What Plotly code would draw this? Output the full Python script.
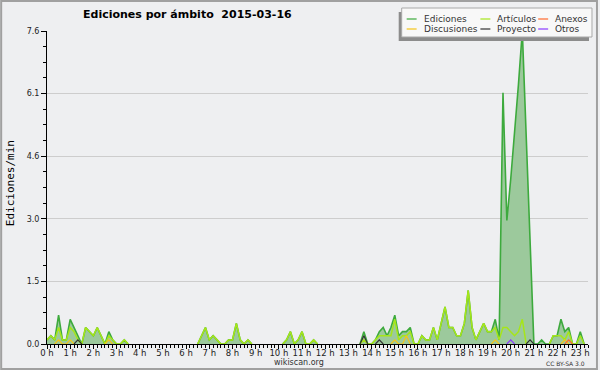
import plotly.graph_objects as go

# ---------------- data (10-minute bins, edits per minute) ----------------
BIN_HOURS = 1 / 6
N_BINS = 141

ediciones = [
    0.1, 0.2, 0.1, 0.7, 0.1, 0.1, 0.6, 0.4, 0.2, 0.0,   # 0-9
    0.4, 0.3, 0.2, 0.4, 0.2, 0.0, 0.3, 0.1, 0.0, 0.0,   # 10-19
    0.1, 0.0, 0.0, 0.0, 0.0, 0.0, 0.0, 0.0, 0.0, 0.0,   # 20-29
    0.0, 0.0, 0.0, 0.0, 0.0, 0.0, 0.0, 0.0, 0.0, 0.0,   # 30-39
    0.2, 0.4, 0.1, 0.2, 0.1, 0.0, 0.0, 0.1, 0.1, 0.5,   # 40-49
    0.1, 0.0, 0.1, 0.0, 0.0, 0.0, 0.0, 0.0, 0.0, 0.0,   # 50-59
    0.0, 0.0, 0.1, 0.3, 0.0, 0.1, 0.3, 0.0, 0.0, 0.1,   # 60-69
    0.0, 0.0, 0.0, 0.0, 0.0, 0.0, 0.0, 0.0, 0.0, 0.0,   # 70-79
    0.0, 0.0, 0.3, 0.0, 0.0, 0.1, 0.3, 0.4, 0.2, 0.4,   # 80-89
    0.7, 0.2, 0.3, 0.3, 0.4, 0.0, 0.0, 0.2, 0.1, 0.1,   # 90-99
    0.4, 0.1, 0.5, 0.9, 0.4, 0.4, 0.2, 0.2, 0.5, 1.3,   # 100-109
    0.4, 0.1, 0.3, 0.5, 0.3, 0.3, 0.6, 0.1, 6.1, 3.0,   # 110-119
    4.0, 5.1, 6.3, 7.6, 5.0, 2.4, 0.0, 0.0, 0.1, 0.0,   # 120-129
    0.0, 0.2, 0.2, 0.6, 0.3, 0.4, 0.0, 0.0, 0.3, 0.0,   # 130-139
    0.0,                                                # 140
]

articulos = [
    0.1, 0.2, 0.1, 0.4, 0.1, 0.1, 0.4, 0.3, 0.1, 0.0,
    0.4, 0.3, 0.2, 0.4, 0.2, 0.0, 0.2, 0.1, 0.0, 0.0,
    0.1, 0.0, 0.0, 0.0, 0.0, 0.0, 0.0, 0.0, 0.0, 0.0,
    0.0, 0.0, 0.0, 0.0, 0.0, 0.0, 0.0, 0.0, 0.0, 0.0,
    0.2, 0.4, 0.1, 0.2, 0.1, 0.0, 0.0, 0.1, 0.1, 0.5,
    0.1, 0.0, 0.1, 0.0, 0.0, 0.0, 0.0, 0.0, 0.0, 0.0,
    0.0, 0.0, 0.1, 0.3, 0.0, 0.1, 0.3, 0.0, 0.0, 0.1,
    0.0, 0.0, 0.0, 0.0, 0.0, 0.0, 0.0, 0.0, 0.0, 0.0,
    0.0, 0.0, 0.1, 0.0, 0.0, 0.1, 0.2, 0.2, 0.2, 0.2,
    0.6, 0.1, 0.2, 0.2, 0.3, 0.0, 0.0, 0.2, 0.1, 0.1,
    0.4, 0.1, 0.5, 0.9, 0.4, 0.4, 0.2, 0.2, 0.5, 1.3,
    0.4, 0.1, 0.3, 0.5, 0.3, 0.3, 0.4, 0.1, 0.4, 0.4,
    0.3, 0.2, 0.3, 0.6, 0.0, 0.0, 0.0, 0.0, 0.0, 0.0,
    0.0, 0.2, 0.2, 0.2, 0.1, 0.3, 0.0, 0.0, 0.2, 0.0,
    0.0,
]

# sparse series: {bin index: edits/min}
discusiones = {3: 0.1, 6: 0.1, 16: 0.1, 90: 0.1, 93: 0.2, 116: 0.1, 134: 0.1}
proyecto = {8: 0.1, 82: 0.2, 86: 0.1, 125: 0.1}
anexos = {135: 0.1}
otros = {120: 0.1}

hour_ticks = list(range(24))
hour_labels = [f"{h} h" for h in hour_ticks]
y_max = 7.6

legend_names = ["Ediciones", "Artículos", "Anexos", "Discusiones", "Proyecto", "Otros"]
colors = {
    "Ediciones": "#3DAA3D",
    "Artículos": "#A6E619",
    "Anexos": "#FF6A2E",
    "Discusiones": "#F5C518",
    "Proyecto": "#333333",
    "Otros": "#8A3BFF",
}

# ---------------- helpers ----------------
x_hours = [i * BIN_HOURS for i in range(N_BINS)]


def dense(d):
    v = [0.0] * N_BINS
    for k, val in d.items():
        v[k] = val
    return v


def visible(vals):
    """Hide long runs of zeros so lines only show where there is activity."""
    out = []
    for i, v in enumerate(vals):
        near = [vals[j] for j in (i - 1, i, i + 1) if 0 <= j < len(vals)]
        out.append(v if any(n > 0 for n in near) else None)
    return out


W, H = 600, 370
ML, MR, MT, MB = 47, 10, 31, 26
PW, PH = W - ML - MR, H - MT - MB


def px(xp):
    return (xp - ML) / PW


def py(yp):
    return (H - MB - yp) / PH


fig = go.Figure()

fig.add_trace(go.Scatter(
    x=x_hours, y=visible(ediciones), name="Ediciones", mode="lines",
    line=dict(color=colors["Ediciones"], width=1.6),
    fill="tozeroy", fillcolor="#9CC99C", connectgaps=False, hoverinfo="skip",
))
fig.add_trace(go.Scatter(
    x=x_hours, y=visible(articulos), name="Artículos", mode="lines",
    line=dict(color=colors["Artículos"], width=1.5), connectgaps=False,
    hoverinfo="skip",
))
for name, d in [("Discusiones", discusiones), ("Anexos", anexos),
                ("Proyecto", proyecto), ("Otros", otros)]:
    fig.add_trace(go.Scatter(
        x=x_hours, y=visible(dense(d)), name=name, mode="lines",
        line=dict(color=colors[name], width=1.2), connectgaps=False,
        hoverinfo="skip",
    ))

y_ticks = [y_max * k / 5 for k in range(6)]
y_minor = [y_max * k / 20 for k in range(21)]

fig.update_layout(
    width=W, height=H,
    margin=dict(l=ML, r=MR, t=MT, b=MB, pad=0),
    paper_bgcolor="#EEEFF1", plot_bgcolor="#EEEFF1",
    showlegend=False,
    font=dict(family="DejaVu Sans", size=9, color="#222"),
    xaxis=dict(
        range=[0, (N_BINS - 1) * BIN_HOURS],
        tickmode="array", tickvals=hour_ticks, ticktext=hour_labels,
        ticks="outside", ticklen=4, tickcolor="black", tickwidth=1,
        showline=True, linecolor="black", linewidth=1,
        showgrid=False, zeroline=False, ticklabelstandoff=-3,
        tickfont=dict(family="DejaVu Sans", size=8.5, color="#222"),
        minor=dict(tickmode="array", tickvals=x_hours, ticks="outside",
                   ticklen=3, tickcolor="black", tickwidth=1, showgrid=False),
    ),
    yaxis=dict(
        range=[0, y_max],
        tickmode="array", tickvals=y_ticks, ticktext=[f"{v:.1f}" for v in y_ticks],
        ticks="outside", ticklen=5, tickcolor="black", tickwidth=1,
        showline=True, linecolor="black", linewidth=1,
        showgrid=True, gridcolor="#CDCDCD", gridwidth=1, zeroline=False,
        tickfont=dict(family="DejaVu Sans", size=8, color="#222"),
        minor=dict(tickmode="array", tickvals=y_minor, ticks="outside",
                   ticklen=3, tickcolor="black", tickwidth=1, showgrid=False),
    ),
)

shapes = []
annotations = []

# outer frame
shapes.append(dict(type="rect", xref="paper", yref="paper",
                   x0=px(1), x1=px(599), y0=py(369), y1=py(1),
                   line=dict(color="#A0A0A0", width=2), fillcolor="rgba(0,0,0,0)",
                   layer="above"))

# legend box with shadow
shapes.append(dict(type="rect", xref="paper", yref="paper",
                   x0=px(400), x1=px(591), y0=py(41), y1=py(12),
                   line=dict(width=0), fillcolor="#8C8C8C", layer="above"))
shapes.append(dict(type="rect", xref="paper", yref="paper",
                   x0=px(403), x1=px(594), y0=py(37), y1=py(8),
                   line=dict(color="#A8A8A8", width=1), fillcolor="#F8F8F8",
                   layer="above"))

col_x = [408, 482, 540]
row_y = [19, 29]
for idx, name in enumerate(legend_names):
    r, c = divmod(idx, 3)
    x0 = col_x[c]
    yy = row_y[r]
    shapes.append(dict(type="line", xref="paper", yref="paper",
                       x0=px(x0), x1=px(x0 + 10), y0=py(yy), y1=py(yy),
                       line=dict(color=colors[name], width=1.2), layer="above"))
    annotations.append(dict(xref="paper", yref="paper", x=px(x0 + 15), y=py(yy),
                            xanchor="left", yanchor="middle", showarrow=False,
                            text=name,
                            font=dict(family="DejaVu Sans", size=9, color="#333")))

# title
annotations.append(dict(xref="paper", yref="paper", x=px(188), y=py(14),
                        xanchor="center", yanchor="middle", showarrow=False,
                        text="<b>Ediciones por ámbito  2015-03-16</b>",
                        font=dict(family="DejaVu Sans", size=11, color="black")))
# y axis title
annotations.append(dict(xref="paper", yref="paper", x=px(10), y=py(183),
                        xanchor="center", yanchor="middle", showarrow=False,
                        textangle=-90, text="Ediciones/min",
                        font=dict(family="DejaVu Sans Mono", size=11, color="black")))
# footer texts
annotations.append(dict(xref="paper", yref="paper", x=px(300), y=py(362),
                        xanchor="center", yanchor="middle", showarrow=False,
                        text="wikiscan.org",
                        font=dict(family="DejaVu Sans", size=8, color="#333")))
annotations.append(dict(xref="paper", yref="paper", x=px(589), y=py(363),
                        xanchor="right", yanchor="middle", showarrow=False,
                        text="CC BY-SA 3.0",
                        font=dict(family="DejaVu Sans", size=6, color="#333")))

fig.update_layout(shapes=shapes, annotations=annotations)

fig.write_html("out.html",
               config={"displayModeBar": False, "staticPlot": True},
               post_script="document.body.style.margin='0';"
                           "document.body.style.overflow='hidden';")
